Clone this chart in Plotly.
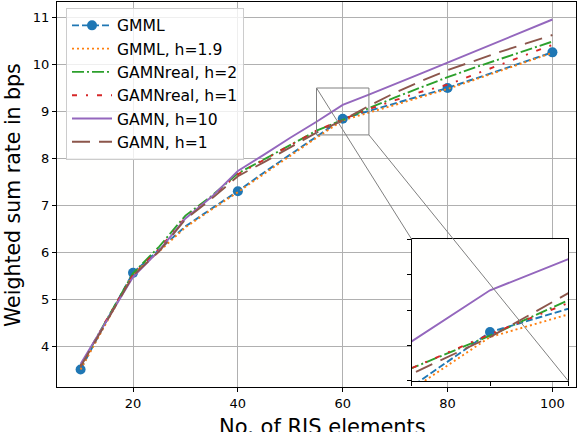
import plotly.graph_objects as go

# ---------------- data ----------------
n_elements = [10, 15, 20, 25, 30, 35, 40, 45, 50, 55, 60, 65, 70, 75, 80, 85, 90, 95, 100]

gmml = [3.50, 4.55, 5.56, 6.05, 6.55, 6.93, 7.30, 7.70, 8.08, 8.46, 8.845, 9.01, 9.17, 9.33,
        9.50, 9.69, 9.88, 10.07, 10.26]
gmml_h19 = [3.50, 4.52, 5.53, 6.02, 6.53, 6.91, 7.28, 7.67, 8.06, 8.44, 8.81, 8.97, 9.14, 9.31,
            9.48, 9.67, 9.86, 10.06, 10.25]
gamnreal_h2 = [3.58, 4.58, 5.55, 6.12, 6.78, 7.20, 7.68, 7.98, 8.29, 8.59, 8.82, 9.07, 9.30, 9.52,
               9.73, 9.93, 10.12, 10.31, 10.49]
gamnreal_h1 = [3.57, 4.57, 5.52, 6.07, 6.74, 7.18, 7.66, 7.97, 8.28, 8.59, 8.83, 9.05, 9.24, 9.42,
               9.57, 9.78, 9.99, 10.20, 10.42]
gamn_h10 = [3.62, 4.55, 5.47, 6.04, 6.72, 7.18, 7.73, 8.08, 8.44, 8.78, 9.14, 9.36, 9.58, 9.81,
            10.04, 10.27, 10.50, 10.73, 10.96]
gamn_h1 = [3.56, 4.53, 5.50, 6.02, 6.70, 7.14, 7.62, 7.92, 8.24, 8.55, 8.81, 9.12, 9.40, 9.65,
           9.88, 10.08, 10.27, 10.45, 10.63]

gmml_marker_x = [10, 20, 40, 60, 80, 100]

series_names = ["GMML, h=1.9", "GAMNreal, h=2", "GAMNreal, h=1", "GAMN, h=10", "GAMN, h=1"]
x_ticks = [20, 40, 60, 80, 100]
y_ticks = [4, 5, 6, 7, 8, 9, 10, 11]
zoom_x = [55, 65]
zoom_y = [8.5, 9.5]
inset_xticks = [55, 60, 65]
inset_yticks = [8.5, 8.75, 9.0, 9.25, 9.5]

# ---------------- styling ----------------
FONT = "DejaVu Sans"
LW = 1.9
C_BLUE, C_ORANGE, C_GREEN, C_RED, C_PURPLE, C_BROWN = (
    "#1f77b4", "#ff7f0e", "#2ca02c", "#d62728", "#9467bd", "#8c564b")

gmml_line = dict(color=C_BLUE, width=LW, dash="7px,3px")
others = [
    (gmml_h19, dict(color=C_ORANGE, width=LW, dash="2px,3px")),
    (gamnreal_h2, dict(color=C_GREEN, width=LW, dash="12px,3px,2px,3px")),
    (gamnreal_h1, dict(color=C_RED, width=LW, dash="5px,9px,2px,9px")),
    (gamn_h10, dict(color=C_PURPLE, width=LW, dash="solid")),
    (gamn_h1, dict(color=C_BROWN, width=LW, dash="18px,9px")),
]

marker_y = [gmml[n_elements.index(v)] for v in gmml_marker_x]

fig = go.Figure()

# legend proxy for GMML (line + marker)
fig.add_trace(go.Scatter(x=[None], y=[None], mode="lines+markers", name="GMML",
                         line=gmml_line, marker=dict(color=C_BLUE, size=10)))

for axx, axy in [("x", "y"), ("x2", "y2")]:
    fig.add_trace(go.Scatter(x=n_elements, y=gmml, mode="lines", line=gmml_line,
                             showlegend=False, xaxis=axx, yaxis=axy, hoverinfo="skip"))
    fig.add_trace(go.Scatter(x=gmml_marker_x, y=marker_y, mode="markers",
                             marker=dict(color=C_BLUE, size=10), showlegend=False,
                             xaxis=axx, yaxis=axy, hoverinfo="skip"))
    for name, (vals, ln) in zip(series_names, others):
        fig.add_trace(go.Scatter(x=n_elements, y=vals, mode="lines", name=name, line=ln,
                                 showlegend=(axx == "x"), xaxis=axx, yaxis=axy))

# main axes ranges (5% margins like matplotlib)
all_y = gmml + gmml_h19 + gamnreal_h2 + gamnreal_h1 + gamn_h10 + gamn_h1
ymin, ymax = min(all_y), max(all_y)
xmin, xmax = min(n_elements), max(n_elements)
xr = [xmin - 0.05 * (xmax - xmin), xmax + 0.05 * (xmax - xmin)]
yr = [ymin - 0.05 * (ymax - ymin), ymax + 0.05 * (ymax - ymin)]

# layout geometry
W, H = 578, 432
ML, MR, MT, MB = 57, 2, 2, 45
PW, PH = W - ML - MR, H - MT - MB
inset_dx = [0.6834, 0.9852]
inset_dy = [0.0156, 0.3836]

def px_paper(xv):
    return (xv - xr[0]) / (xr[1] - xr[0])

def py_paper(yv):
    return (yv - yr[0]) / (yr[1] - yr[0])

axis_common = dict(showline=True, mirror=True, linecolor="black", linewidth=1,
                   ticks="outside", ticklen=4, tickcolor="black", zeroline=False,
                   automargin=False,
                   tickfont=dict(family=FONT, size=13, color="black"))

fig.update_layout(
    width=W, height=H,
    margin=dict(l=ML, r=MR, t=MT, b=MB, autoexpand=False),
    paper_bgcolor="#ffffff", plot_bgcolor="#fffffe",
    font=dict(family=FONT, color="black"),
    xaxis=dict(range=xr, tickvals=x_ticks, showgrid=True, gridcolor="#b0b0b0", gridwidth=1,
               domain=[0, 1], **axis_common),
    yaxis=dict(range=yr, tickvals=y_ticks, showgrid=True, gridcolor="#b0b0b0", gridwidth=1,
               domain=[0, 1], **axis_common),
    xaxis2=dict(range=zoom_x, tickvals=inset_xticks, showticklabels=False, showgrid=False,
                domain=inset_dx, anchor="y2", **axis_common),
    yaxis2=dict(range=zoom_y, tickvals=inset_yticks, showticklabels=False, showgrid=False,
                domain=inset_dy, anchor="x2", **axis_common),
    legend=dict(x=(66 - ML) / PW, y=1 - (7.7 - MT) / PH, xanchor="left", yanchor="top",
                bgcolor="rgba(255,255,255,0.8)", bordercolor="#cccccc", borderwidth=1,
                font=dict(family=FONT, size=15.6, color="black"), itemwidth=40,
                tracegroupgap=0),
    showlegend=True,
)

gray = dict(color="#808080", width=1)
fig.add_shape(type="rect", xref="x", yref="y", x0=zoom_x[0], x1=zoom_x[1],
              y0=zoom_y[0], y1=zoom_y[1], line=gray, layer="above")
fig.add_shape(type="line", xref="paper", yref="paper",
              x0=px_paper(zoom_x[0]), y0=py_paper(zoom_y[1]),
              x1=inset_dx[0], y1=inset_dy[1], line=gray, layer="above")
fig.add_shape(type="line", xref="paper", yref="paper",
              x0=px_paper(zoom_x[1]), y0=py_paper(zoom_y[0]),
              x1=inset_dx[1], y1=inset_dy[0], line=gray, layer="above")

# axis titles
fig.add_annotation(text="No. of RIS elements", xref="paper", yref="paper",
                   x=(322 - ML) / PW, y=1 - (427 - MT) / PH, xanchor="center", yanchor="middle",
                   showarrow=False, font=dict(family=FONT, size=21, color="black"))
fig.add_annotation(text="Weighted sum rate in bps", xref="paper", yref="paper",
                   x=(13 - ML) / PW, y=1 - (195 - MT) / PH, xanchor="center", yanchor="middle",
                   textangle=-90, showarrow=False, font=dict(family=FONT, size=20.5, color="black"))

fig.write_html("out.html", config={"displayModeBar": False},
               post_script="document.body.style.margin='0';document.body.style.overflow='hidden';")
